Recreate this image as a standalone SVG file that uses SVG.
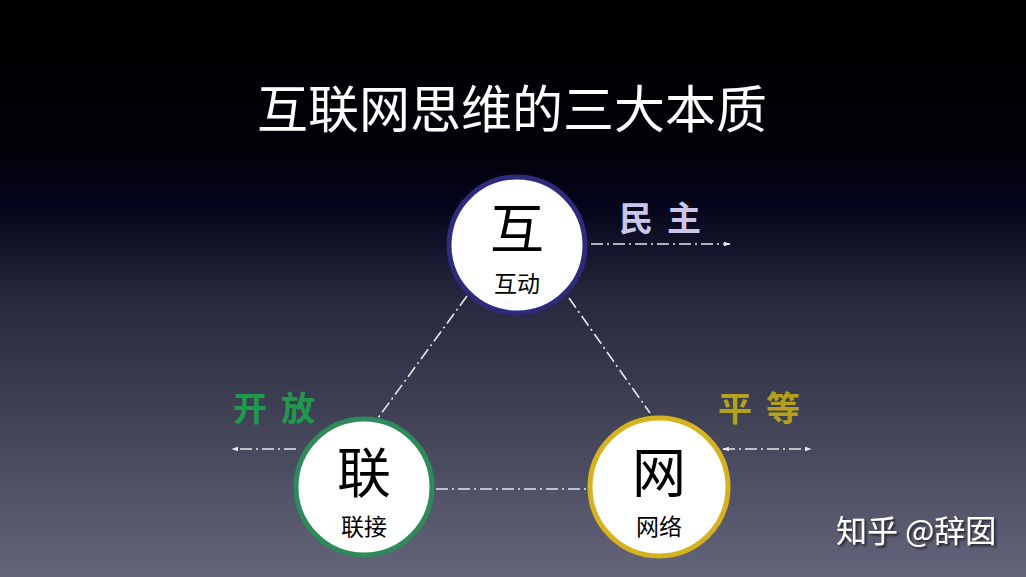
<svg xmlns="http://www.w3.org/2000/svg" width="1026" height="577" viewBox="0 0 1026 577">
  <defs>
    <linearGradient id="bg" x1="0" y1="0" x2="0" y2="1">
      <stop offset="0" stop-color="#000000"/>
      <stop offset="0.25" stop-color="#010108"/>
      <stop offset="0.36" stop-color="#05051c"/>
      <stop offset="0.52" stop-color="#28283e"/>
      <stop offset="0.75" stop-color="#45455a"/>
      <stop offset="1" stop-color="#64647a"/>
    </linearGradient>
    <marker id="arr" viewBox="0 0 10 10" refX="9" refY="5" markerWidth="7" markerHeight="7" orient="auto-start-reverse" markerUnits="userSpaceOnUse">
      <path d="M0,1.5 L10,5 L0,8.5 Z" fill="#e8e8ee"/>
    </marker>
    <filter id="sh" x="-10%" y="-10%" width="130%" height="140%">
      <feDropShadow dx="2" dy="2" stdDeviation="1" flood-color="#000" flood-opacity="0.6"/>
    </filter>
  </defs>
  <style>
    text { font-family: "Noto Sans CJK SC", "Noto Sans", sans-serif; }
    .title { fill: #ffffff; font-size: 51px; }
    .big { fill: #000; font-size: 54px; text-anchor: middle; }
    .small { fill: #000; font-size: 23px; text-anchor: middle; }
    .lab { font-size: 34px; font-weight: 700; letter-spacing: 14px; }
    .node { fill: #ffffff; stroke-width: 5; }
    .con { fill: none; stroke: #e8e8ee; stroke-width: 1.6; stroke-dasharray: 12 4 2 4; }
  </style>
  <rect x="0" y="0" width="1026" height="577" fill="url(#bg)"/>
  <text class="title" x="512" y="128" text-anchor="middle">互联网思维的三大本质</text>

  <g id="connectors">
    <line class="con" x1="467" y1="296" x2="378" y2="418"/>
    <line class="con" x1="569" y1="298" x2="650" y2="413"/>
    <line class="con" x1="436" y1="489" x2="588" y2="489"/>
    <line class="con" x1="591" y1="244" x2="730" y2="244" marker-end="url(#arr)"/>
    <line class="con" x1="296" y1="449" x2="232" y2="449" marker-end="url(#arr)"/>
    <line class="con" x1="723" y1="449" x2="811" y2="449" marker-end="url(#arr)" marker-start="url(#arr)"/>
  </g>

  <g id="label-minzhu"><text class="lab" x="619" y="231" fill="#cbc7ea">民主</text></g>
  <g id="label-kaifang"><text class="lab" x="233" y="421" fill="#1e9a4c">开放</text></g>
  <g id="label-pingdeng"><text class="lab" x="718" y="421" fill="#b3a11c">平等</text></g>

  <g id="node-hu">
    <circle class="node" cx="517" cy="245" r="68" stroke="#2d2b7a"/>
    <text class="big" x="517" y="249">互</text>
    <text class="small" x="517" y="292">互动</text>
  </g>
  <g id="node-lian">
    <circle class="node" cx="364" cy="487" r="68" stroke="#2e8a5a"/>
    <text class="big" x="364" y="493">联</text>
    <text class="small" x="364" y="535">联接</text>
  </g>
  <g id="node-wang">
    <circle class="node" cx="659" cy="487" r="69" stroke="#d6b21e"/>
    <text class="big" x="659" y="493">网</text>
    <text class="small" x="659" y="535">网络</text>
  </g>

  <text x="836" y="542" fill="#ffffff" font-size="31" filter="url(#sh)">知乎 @辞囡</text>
</svg>
